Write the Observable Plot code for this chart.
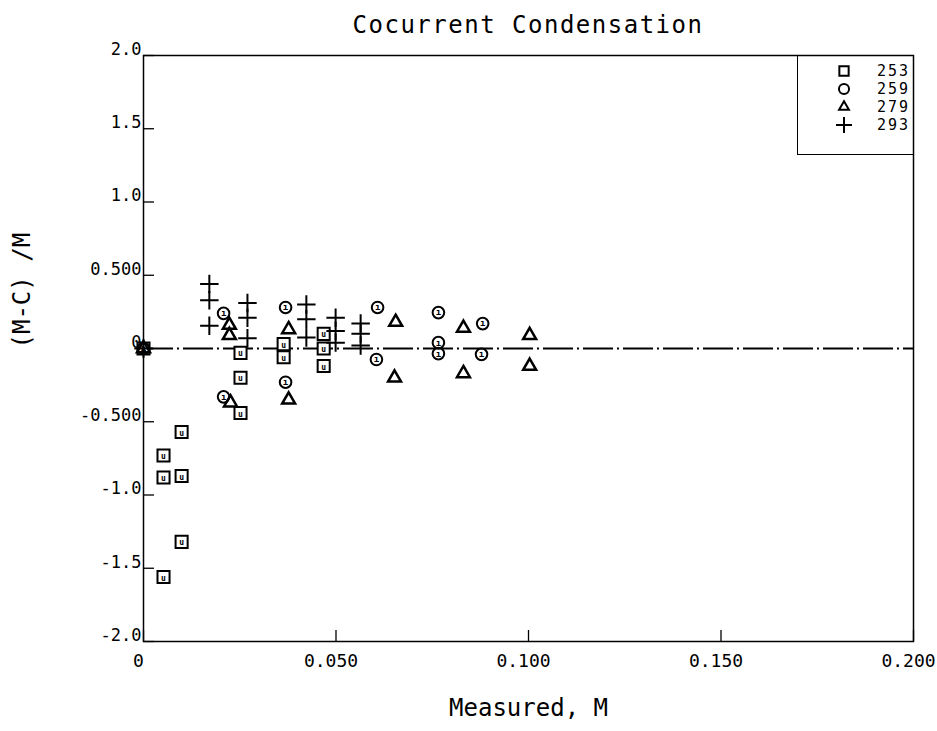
<!DOCTYPE html>
<html>
<head>
<meta charset="utf-8">
<script src="https://cdn.jsdelivr.net/npm/d3@7"></script>
<script src="https://cdn.jsdelivr.net/npm/@observablehq/plot@0.6"></script>
<style>
  body { margin: 0; background: #fff; }
  #wrap { position: relative; width: 937px; height: 731px; font-family: "DejaVu Sans Mono", monospace; color: #000; }
  #title { height: 40px; line-height: 30px; padding-top: 10px; box-sizing: border-box; margin-left: 143px; width: 770px; text-align: center; font-size: 24px; letter-spacing: 1.5px; }
  #legend { position: absolute; left: 797px; top: 55px; width: 116px; height: 100px; box-sizing: border-box; border-left: 1.5px solid #000; border-bottom: 1.5px solid #000; }
  .lrow { position: absolute; left: 0; width: 112px; height: 17px; }
  .lrow svg { position: absolute; left: 38px; top: 0px; }
  .lrow span { position: absolute; right: 0; top: 0; font-size: 15px; line-height: 16px; letter-spacing: 2px; }
  g[aria-label="x-axis tick label"] text { font-size: 18px; }
  g[aria-label="y-axis tick label"] text { font-size: 17px; }
</style>
</head>
<body>
<div id="wrap">
  <div id="title">Cocurrent Condensation</div>
  <div id="chart"></div>
  <div id="legend"></div>
</div>
<script>
// ---- data ----
const seriesNames = ["253", "259", "279", "293"];

const x253 = [0, 0.0052, 0.0052, 0.0052, 0.0099, 0.0099, 0.0099, 0.0252, 0.0252, 0.0252, 0.0364, 0.0364, 0.0468, 0.0468, 0.0468];
const y253 = [0, -0.73, -0.88, -1.56, -0.57, -0.87, -1.32, -0.03, -0.20, -0.44, 0.03, -0.06, 0.10, 0.0, -0.12];

const x259 = [0, 0.0208, 0.0208, 0.0369, 0.0369, 0.0608, 0.0605, 0.0766, 0.0766, 0.0766, 0.0881, 0.0878];
const y259 = [0, 0.24, -0.33, 0.28, -0.23, 0.28, -0.075, 0.245, 0.04, -0.035, 0.17, -0.04];

const x279 = [0, 0.0223, 0.0223, 0.0226, 0.0377, 0.0377, 0.0655, 0.0652, 0.0831, 0.0831, 0.1003, 0.1003];
const y279 = [0, 0.16, 0.09, -0.37, 0.13, -0.35, 0.18, -0.20, 0.14, -0.17, 0.09, -0.12];

const x293 = [0, 0.0171, 0.0171, 0.0171, 0.027, 0.027, 0.027, 0.0423, 0.0423, 0.0423, 0.0499, 0.0499, 0.0499, 0.0564, 0.0564, 0.0564];
const y293 = [0, 0.44, 0.33, 0.155, 0.31, 0.21, 0.07, 0.30, 0.20, 0.075, 0.21, 0.12, 0.04, 0.17, 0.10, 0.02];

const xTicks = [0, 0.05, 0.1, 0.15, 0.2];
const xTickLabels = ["0", "0.050", "0.100", "0.150", "0.200"];
const yTicks = [2, 1.5, 1, 0.5, 0, -0.5, -1, -1.5, -2];
const yTickLabels = ["2.0", "1.5", "1.0", "0.500", "0", "-0.500", "-1.0", "-1.5", "-2.0"];

const xLabel = "Measured, M";
const yLabel = "(M-C) /M";

// ---- build tables ----
const toRows = (xs, ys, s) => xs.map((x, i) => ({x, y: ys[i], s}));
const d253 = toRows(x253, y253, "253");
const d259 = toRows(x259, y259, "259");
const d279 = toRows(x279, y279, "279");
const d293 = toRows(x293, y293, "293");
const xFmt = new Map(xTicks.map((t, i) => [t, xTickLabels[i]]));
const yFmt = new Map(yTicks.map((t, i) => [t, yTickLabels[i]]));

const chart = Plot.plot({
  width: 937,
  height: 691,
  marginLeft: 143,
  marginRight: 24,
  marginTop: 15,
  marginBottom: 90,
  style: {fontFamily: "DejaVu Sans Mono, monospace", color: "#000", background: "#fff"},
  x: {domain: [0, 0.2], axis: null},
  y: {domain: [-2, 2], axis: null},
  marks: [
    Plot.ruleY([0], {stroke: "#000", strokeWidth: 2, strokeDasharray: "30,4,2,4"}),
    Plot.frame({stroke: "#000", strokeWidth: 1.5}),
    Plot.axisY(yTicks, {tickSize: -11, fill: "none", label: null, strokeWidth: 1.3}),
    Plot.axisY(yTicks, {tickSize: 0, tickPadding: 2, dy: -6, tickFormat: d => yFmt.get(d), label: null}),
    Plot.axisX(xTicks, {tickSize: -11, fill: "none", label: null, strokeWidth: 1.3}),
    Plot.axisX(xTicks, {tickSize: 0, tickPadding: 13, dx: -5, tickFormat: d => xFmt.get(d), label: null}),
    Plot.text([xLabel], {text: d => d, frameAnchor: "bottom", dy: 74, fontSize: 24, fill: "#000"}),
    Plot.text([yLabel], {text: d => d, frameAnchor: "left", dx: -121, rotate: -90, fontSize: 24, fill: "#000"}),
    // series 253: squares with inner mark
    Plot.dot(d253, {x: "x", y: "y", symbol: "square", r: 6.8, stroke: "#000", strokeWidth: 2, fill: "#fff"}),
    Plot.text(d253, {x: "x", y: "y", text: () => "u", fontSize: 8, fontWeight: "bold", dy: 1, fill: "#000"}),
    // series 259: circles with inner stroke
    Plot.dot(d259, {x: "x", y: "y", symbol: "circle", r: 5.8, stroke: "#000", strokeWidth: 2, fill: "none"}),
    Plot.text(d259, {x: "x", y: "y", text: () => "ı", fontSize: 9, fontWeight: "bold", fill: "#000"}),
    // series 279: triangles
    Plot.dot(d279, {x: "x", y: "y", symbol: "triangle", r: 4.8, stroke: "#000", strokeWidth: 2.5, fill: "none"}),
    // series 293: plus
    Plot.dot(d293, {x: "x", y: "y", symbol: "plus", r: 6, stroke: "#000", strokeWidth: 2})
  ]
});
document.getElementById("chart").appendChild(chart);

// ---- legend ----
const legendSymbols = [d3.symbolSquare2, d3.symbolCircle, d3.symbolTriangle2, d3.symbolPlus];
const legendSizes = [110, 80, 70, 110];
const legend = d3.select("#legend");
seriesNames.forEach((name, i) => {
  const row = legend.append("div").attr("class", "lrow").style("top", (8 + i * 18) + "px");
  const svg = row.append("svg").attr("width", 16).attr("height", 16);
  svg.append("path")
    .attr("transform", "translate(8,8)")
    .attr("d", d3.symbol(legendSymbols[i], legendSizes[i])())
    .attr("fill", "none").attr("stroke", "#000").attr("stroke-width", 2);
  row.append("span").text(name);
});
</script>
</body>
</html>
